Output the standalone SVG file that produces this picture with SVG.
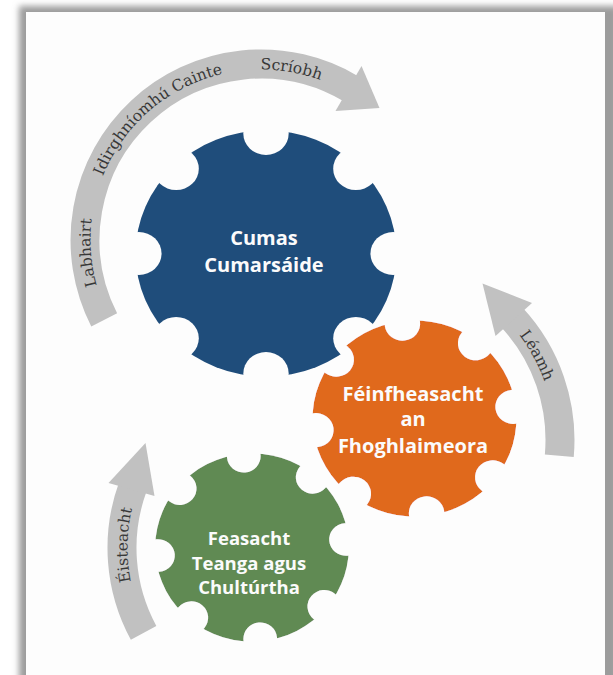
<svg xmlns="http://www.w3.org/2000/svg" xmlns:xlink="http://www.w3.org/1999/xlink" width="613" height="675" viewBox="0 0 613 675">
<style>
.band{fill:none;stroke:#c1c1c1;stroke-width:29}
.head{fill:#c1c1c1}
.arclabel{font-family:"DejaVu Serif","Liberation Serif",serif;font-size:15.5px;fill:#383838;text-anchor:middle}
.gearlabel{font-family:"Open Sans","Noto Sans",sans-serif;font-weight:700;font-size:20px;fill:#fbfbfb;text-anchor:middle}
.small{font-size:18.5px}
</style>
<defs>
<filter id="shadow" x="-5%" y="-5%" width="110%" height="110%">
<feGaussianBlur stdDeviation="3"/>
</filter>
<filter id="outline" x="-10%" y="-10%" width="120%" height="120%">
<feMorphology in="SourceAlpha" operator="dilate" radius="3" result="d"/>
<feFlood flood-color="#fdfdfd"/>
<feComposite in2="d" operator="in" result="w"/>
<feMerge><feMergeNode in="w"/><feMergeNode in="SourceGraphic"/></feMerge>
</filter>
<mask id="notches" maskUnits="objectBoundingBox" maskContentUnits="objectBoundingBox" x="-0.1" y="-0.1" width="1.2" height="1.2">
<rect x="-0.1" y="-0.1" width="1.2" height="1.2" fill="#fff"/>
<g fill="#000">
<circle cx="0.9875" cy="0.5" r="0.087"/>
<circle cx="0.8447" cy="0.8447" r="0.087"/>
<circle cx="0.5" cy="0.9875" r="0.087"/>
<circle cx="0.1553" cy="0.8447" r="0.087"/>
<circle cx="0.0125" cy="0.5" r="0.087"/>
<circle cx="0.1553" cy="0.1553" r="0.087"/>
<circle cx="0.5" cy="0.0125" r="0.087"/>
<circle cx="0.8447" cy="0.1553" r="0.087"/>
</g>
</mask>
<path id="tp-top" d="M 109.1 317.4 A 170.5 170.5 0 0 1 358.8 100.3"/>
<path id="tp-right" d="M 505.5 318.8 A 174.5 174.5 0 0 1 553.8 455.2"/>
<path id="tp-left" d="M 148.4 630.3 A 172.5 172.5 0 0 1 137.9 489"/>
</defs>

<rect width="613" height="675" fill="#ffffff"/>
<rect x="19" y="6" width="600" height="700" fill="#9c9c9c" filter="url(#shadow)"/>
<rect x="26" y="12" width="579" height="700" fill="#fdfdfd"/>

<g id="arrows">
<path class="band" d="M 104.2 319.9 A 176 176 0 0 1 351.6 89.1"/>
<polygon class="head" points="361.5,66 379.5,108 335.5,111"/>
<path class="band" d="M 559.3 455.7 A 180 180 0 0 0 511.6 317.2"/>
<polygon class="head" points="532,303 482.5,283.5 495.5,336"/>
<path class="band" d="M 143.6 632.9 A 178 178 0 0 1 132.7 487.1"/>
<polygon class="head" points="108.5,483 145.5,443 154.5,496"/>
<text class="arclabel"><textPath xlink:href="#tp-top" startOffset="67.8">Labhairt</textPath></text>
<text class="arclabel"><textPath xlink:href="#tp-top" startOffset="227.6">Idirghníomhú Cainte</textPath></text>
<text class="arclabel"><textPath xlink:href="#tp-top" startOffset="378">Scríobh</textPath></text>
<text class="arclabel"><textPath xlink:href="#tp-right" startOffset="47.8">Léamh</textPath></text>
<text class="arclabel"><textPath xlink:href="#tp-left" startOffset="88.8">Éisteacht</textPath></text>
</g>

<g id="gear-cumas">
<g transform="translate(266,253.5) scale(1.06,1)">
<circle r="123" fill="#1f4d7b" mask="url(#notches)"/>
</g>
<text class="gearlabel" x="264" y="245">Cumas</text>
<text class="gearlabel" x="264" y="272">Cumarsáide</text>
</g>

<g id="gear-feinfheasacht">
<g filter="url(#outline)">
<g transform="translate(414.5,418.5) scale(1.04,1) rotate(-7)">
<circle r="98" fill="#e0691f" mask="url(#notches)"/>
</g>
</g>
<text class="gearlabel" x="413" y="401">Féinfheasacht</text>
<text class="gearlabel" x="413" y="426">an</text>
<text class="gearlabel" x="413" y="453">Fhoghlaimeora</text>
</g>

<g id="gear-feasacht">
<g filter="url(#outline)">
<g transform="translate(252,547.5) scale(1.03,1) rotate(-5)">
<circle r="94" fill="#608a53" mask="url(#notches)"/>
</g>
</g>
<text class="gearlabel small" x="249" y="545">Feasacht</text>
<text class="gearlabel small" x="249" y="570">Teanga agus</text>
<text class="gearlabel small" x="249" y="594">Chultúrtha</text>
</g>
</svg>
